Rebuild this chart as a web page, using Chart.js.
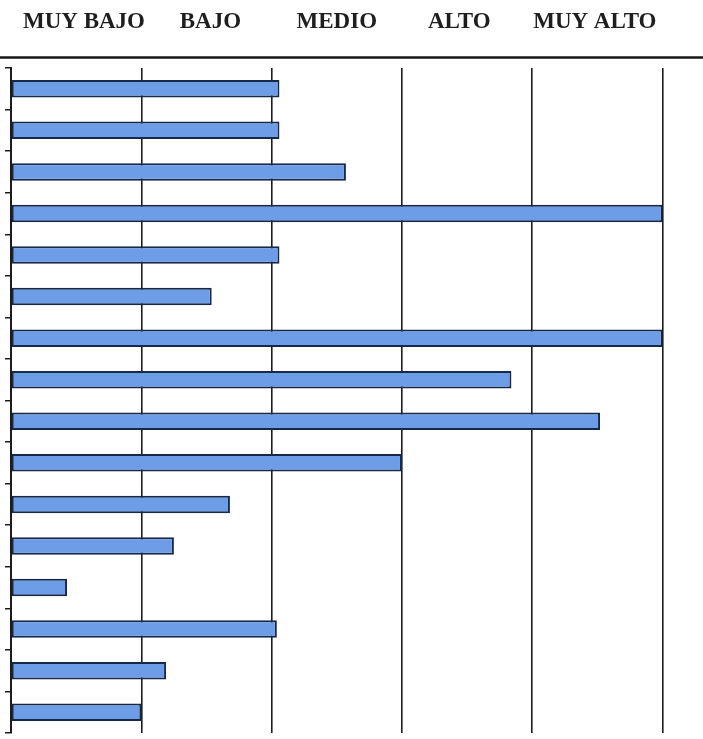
<!DOCTYPE html>
<html>
<head>
<meta charset="utf-8">
<script src="https://cdn.jsdelivr.net/npm/chart.js@4"></script>
<style>
  html, body { margin: 0; padding: 0; background: #fff; }
  #wrap { width: 703px; height: 739px; }
</style>
</head>
<body>
<div id="wrap"><canvas id="chart"></canvas></div>
<script>
// items (rows, top to bottom) and their level on a 0-5 scale
const items = ['1', '2', '3', '4', '5', '6', '7', '8', '9', '10', '11', '12', '13', '14', '15', '16'];
const scores = [2.06, 2.06, 2.57, 5, 2.06, 1.54, 5, 3.84, 4.52, 3.0, 1.68, 1.25, 0.43, 2.04, 1.19, 1.0];
const levels = ['MUY BAJO', 'BAJO', 'MEDIO', 'ALTO', 'MUY ALTO'];
const levelPos = [0.56, 1.53, 2.5, 3.44, 4.48];
const gridSteps = [0, 1, 2, 3, 4, 5];

// thick rule under the header labels, across the whole page
const headerRule = {
    id: 'headerRule',
    afterDraw(chart) {
        const ctx = chart.ctx;
        const y = chart.chartArea.top - 10.5;
        ctx.save();
        ctx.strokeStyle = '#1a1a1a';
        ctx.lineWidth = 2.5;
        ctx.beginPath();
        ctx.moveTo(0, y);
        ctx.lineTo(chart.width, y);
        ctx.stroke();
        ctx.restore();
    }
};

new Chart(document.getElementById('chart'), {
    type: 'bar',
    data: {
        labels: items,
        datasets: [{
            data: scores,
            backgroundColor: '#6c9de6',
            borderColor: '#17294a',
            borderWidth: 2,
            borderSkipped: false,
            categoryPercentage: 1,
            barPercentage: 0.42
        }]
    },
    options: {
        indexAxis: 'y',
        responsive: true,
        maintainAspectRatio: false,
        animation: false,
        layout: { padding: { top: 0, left: 5, right: 0, bottom: 6 } },
        plugins: { legend: { display: false }, tooltip: { enabled: false } },
        scales: {
            x: {
                type: 'linear',
                min: 0,
                max: 5.31,
                afterBuildTicks: axis => { axis.ticks = gridSteps.map(v => ({ value: v })); },
                ticks: { display: false },
                border: { display: false },
                grid: { color: '#1c1c1c', lineWidth: 1.6, drawTicks: false }
            },
            top: {
                type: 'linear',
                position: 'top',
                min: 0,
                max: 5.31,
                afterBuildTicks: axis => { axis.ticks = levelPos.map(v => ({ value: v })); },
                afterFit: axis => {
                    axis.height = 68;
                    axis.paddingLeft = 0;
                    axis.paddingRight = 0;
                },
                ticks: {
                    autoSkip: false,
                    maxRotation: 0,
                    padding: 32,
                    color: '#1e1e1e',
                    font: { family: '"Liberation Serif", "Times New Roman", serif', size: 23, weight: 'bold' },
                    callback: (v, i) => levels[i]
                },
                border: { display: false },
                grid: { display: false, drawTicks: false }
            },
            y: {
                type: 'category',
                ticks: { display: false },
                border: { display: true, color: '#1c1c1c', width: 2 },
                grid: { drawOnChartArea: false, drawTicks: true, tickLength: 6, color: '#1c1c1c', lineWidth: 1.5, offset: true }
            }
        }
    },
    plugins: [headerRule]
});
</script>
</body>
</html>
